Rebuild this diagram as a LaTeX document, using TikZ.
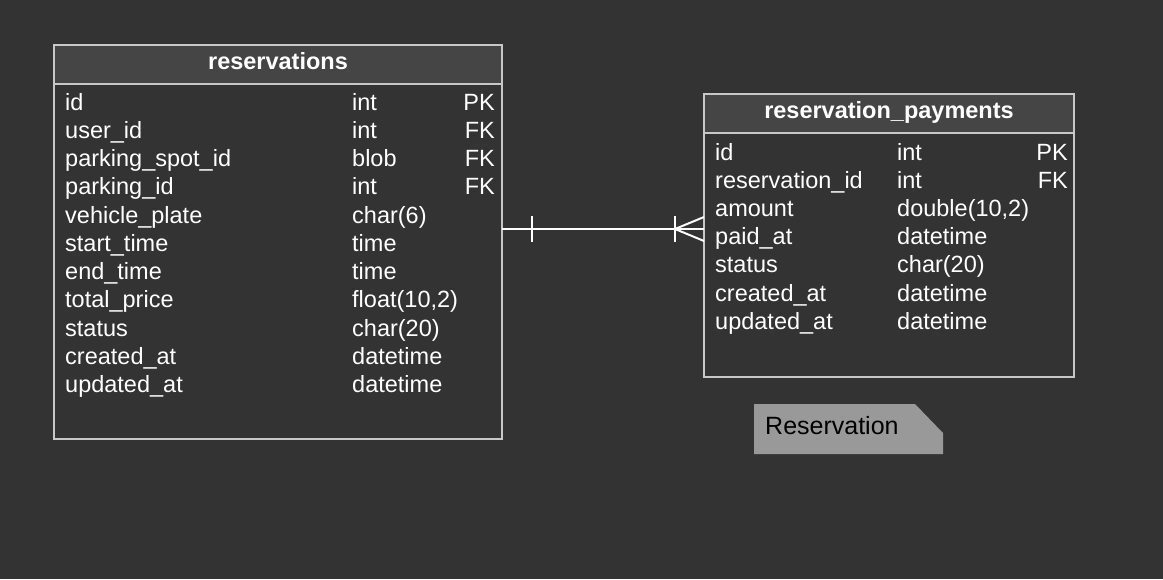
\documentclass[tikz,border=0pt]{standalone}
\usepackage{fontspec}
\setmainfont{Liberation Sans}
\definecolor{bgc}{HTML}{333333}
\definecolor{hdr}{HTML}{454545}
\definecolor{brd}{HTML}{C8C8C8}
\definecolor{notef}{HTML}{999999}
\begin{document}
\begin{tikzpicture}[x=1pt,y=-1pt,
  cell/.style={anchor=base west,inner sep=0pt,text=white,font=\fontsize{23.5}{24}\selectfont},
  key/.style={anchor=base east,inner sep=0pt,text=white,font=\fontsize{23.5}{24}\selectfont},
  title/.style={anchor=base,inner sep=0pt,text=white,font=\fontsize{23.5}{24}\selectfont\bfseries},
  frame/.style={draw=brd,line width=2pt},
  conn/.style={draw=white,line width=2pt}]
\fill[bgc] (0,0) rectangle (1163,579);
\useasboundingbox (0,0) rectangle (1163,579);
% left table
\fill[hdr] (54,45) rectangle (502,84);
\draw[frame] (54,45) rectangle (502,439);
\draw[frame] (54,84) -- (502,84);
\node[title] (t1) at (278,69) {reservations};
\foreach \n/\t/\k [count=\i from 0] in {id/int/PK,user\_id/int/FK,parking\_spot\_id/blob/FK,parking\_id/int/FK,vehicle\_plate/char(6)/,start\_time/time/,end\_time/time/,total\_price/{float(10,2)}/,status/char(20)/,created\_at/datetime/,updated\_at/datetime/}{
  \node[cell] (l\i) at (65,110+28.25*\i) {\n};
  \node[cell] (lt\i) at (352,110+28.25*\i) {\t};
  \node[key] (lk\i) at (495,110+28.25*\i) {\k};
}
% right table
\fill[hdr] (704,94) rectangle (1074,133);
\draw[frame] (704,94) rectangle (1074,377);
\draw[frame] (704,133) -- (1074,133);
\node[title] (t2) at (889,118) {reservation\_payments};
\foreach \n/\t/\k [count=\i from 0] in {id/int/PK,reservation\_id/int/FK,amount/{double(10,2)}/,paid\_at/datetime/,status/char(20)/,created\_at/datetime/,updated\_at/datetime/}{
  \node[cell] (r\i) at (715,160+28.2*\i) {\n};
  \node[cell] (rt\i) at (897,160+28.2*\i) {\t};
  \node[key] (rk\i) at (1068,160+28.2*\i) {\k};
}
% connector
\coordinate (a) at (502,229);
\coordinate (b) at (704,229);
\draw[conn] (a) -- (b);
\draw[conn] (532,216) -- (532,242);
\draw[conn] (675,216) -- (675,242);
\draw[conn] (704,217) -- (675,229) -- (704,241);
% note
\fill[notef] (754,404) -- (915,404) -- (943,433) -- (943,454) -- (754,454) -- cycle;
\node[anchor=base west,inner sep=0pt,text=black,font=\fontsize{25}{26}\selectfont] (note) at (765,434) {Reservation};
\end{tikzpicture}
\end{document}
